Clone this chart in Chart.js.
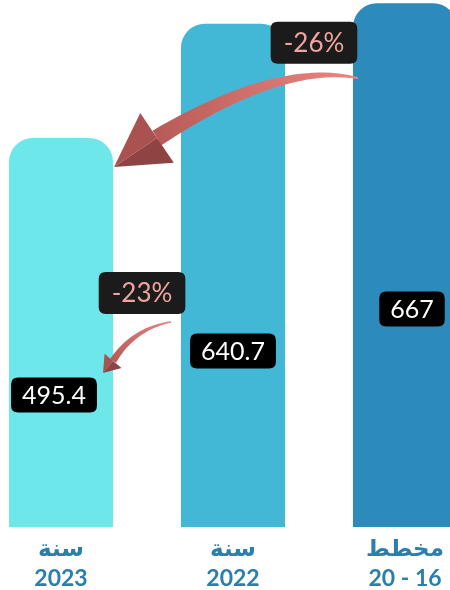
<!DOCTYPE html>
<html>
<head>
<meta charset="utf-8">
<script src="https://cdn.jsdelivr.net/npm/chart.js@4.4.0/dist/chart.umd.min.js"></script>
<style>
  html, body { margin: 0; padding: 0; background: #fff; overflow: hidden; }
  #wrap { position: relative; width: 450px; height: 590px; overflow: hidden; }
  #chart { position: absolute; left: -25px; top: 0; }
</style>
</head>
<body>
<div id="wrap"><canvas id="chart" width="516" height="590"></canvas></div>
<script>
const categories = [['سنة', '2023'], ['سنة', '2022'], ['مخطط', '20 - 16']];
const values = [495.4, 640.7, 667];
const valueLabels = ['495.4', '640.7', '667'];
const barColors = ['#6de7e9', '#42b8d6', '#2c8bbb'];

// percentage change of 2023 against the plan and against 2022
function pctChange(from, to) {
    return Math.round((to - from) / from * 100) + '%';
}
const dropVsPlan = pctChange(values[2], values[0]);
const dropVs2022 = pctChange(values[1], values[0]);

function roundBox(ctx, x, y, w, h, r) {
    ctx.beginPath();
    ctx.moveTo(x + r, y);
    ctx.lineTo(x + w - r, y);
    ctx.quadraticCurveTo(x + w, y, x + w, y + r);
    ctx.lineTo(x + w, y + h - r);
    ctx.quadraticCurveTo(x + w, y + h, x + w - r, y + h);
    ctx.lineTo(x + r, y + h);
    ctx.quadraticCurveTo(x, y + h, x, y + h - r);
    ctx.lineTo(x, y + r);
    ctx.quadraticCurveTo(x, y, x + r, y);
    ctx.closePath();
}

function labelBox(ctx, text, cx, cy, opts) {
    ctx.font = opts.font;
    const w = ctx.measureText(text).width + opts.padX * 2;
    const h = opts.h;
    roundBox(ctx, cx - w / 2, cy - h / 2, w, h, 7);
    ctx.fillStyle = opts.bg;
    ctx.fill();
    ctx.fillStyle = opts.color;
    ctx.textAlign = 'center';
    ctx.textBaseline = 'middle';
    ctx.fillText(text, cx, cy + 1);
}

// curved tapering arrow: start s, control c, head base b, tip t
function curvedArrow(ctx, s, c, b, t, w0, w1, headHalf) {
    const n = 30;
    const left = [], right = [];
    for (let i = 0; i <= n; i++) {
        const k = i / n;
        const x = (1 - k) * (1 - k) * s[0] + 2 * (1 - k) * k * c[0] + k * k * b[0];
        const y = (1 - k) * (1 - k) * s[1] + 2 * (1 - k) * k * c[1] + k * k * b[1];
        const dx = 2 * (1 - k) * (c[0] - s[0]) + 2 * k * (b[0] - c[0]);
        const dy = 2 * (1 - k) * (c[1] - s[1]) + 2 * k * (b[1] - c[1]);
        const len = Math.hypot(dx, dy);
        const hw = (w0 + (w1 - w0) * k) / 2;
        left.push([x - dy / len * hw, y + dx / len * hw]);
        right.push([x + dy / len * hw, y - dx / len * hw]);
    }
    const grad = ctx.createLinearGradient(s[0], s[1], b[0], b[1]);
    grad.addColorStop(0, '#ea8582');
    grad.addColorStop(1, '#b85b58');
    ctx.beginPath();
    ctx.moveTo(left[0][0], left[0][1]);
    left.forEach(p => ctx.lineTo(p[0], p[1]));
    for (let i = right.length - 1; i >= 0; i--) ctx.lineTo(right[i][0], right[i][1]);
    ctx.closePath();
    ctx.fillStyle = grad;
    ctx.fill();

    // head
    const hx = t[0] - b[0], hy = t[1] - b[1];
    const hl = Math.hypot(hx, hy);
    const px = -hy / hl * headHalf, py = hx / hl * headHalf;
    const a1 = [b[0] + px, b[1] + py];
    const a2 = [b[0] - px, b[1] - py];
    ctx.beginPath();
    ctx.moveTo(t[0], t[1]);
    ctx.lineTo(a1[0], a1[1]);
    ctx.lineTo(b[0], b[1]);
    ctx.closePath();
    ctx.fillStyle = '#a95250';
    ctx.fill();
    ctx.beginPath();
    ctx.moveTo(t[0], t[1]);
    ctx.lineTo(a2[0], a2[1]);
    ctx.lineTo(b[0], b[1]);
    ctx.closePath();
    ctx.fillStyle = '#8e4442';
    ctx.fill();
}

const annotations = {
    id: 'annotations',
    afterDatasetsDraw(chart) {
        const ctx = chart.ctx;
        const bars = chart.getDatasetMeta(0).data;
        const b1 = bars[0], b2 = bars[1], b3 = bars[2];
        const r1 = b1.x + b1.width / 2;
        const l3 = b3.x - b3.width / 2;
        ctx.save();

        // big arrow: plan -> 2023
        curvedArrow(ctx,
            [l3 + 5, b3.y + 75], [l3 - 73, b3.y + 58], [r1 + 44, b1.y],
            [r1 + 1, b1.y + 29], 2, 17, 30);
        // small arrow: 2022 -> 2023
        curvedArrow(ctx,
            [r1 + 58, b1.y + 184], [r1 + 20, b1.y + 191], [r1, b1.y + 223],
            [r1 - 10, b1.y + 235], 1.5, 7, 11);

        const pctStyle = { font: '26px Lato, "Open Sans", sans-serif', padX: 13, h: 42, bg: '#1b1b1b', color: '#f0a49d' };
        labelBox(ctx, dropVsPlan, l3 - 39, b2.y + 19, pctStyle);
        labelBox(ctx, dropVs2022, r1 + 29, b1.y + 155, pctStyle);

        const valStyle = { font: '25px Lato, "Open Sans", sans-serif', padX: 11, h: 35, bg: '#000', color: '#fff' };
        const shiftX = [-7, 0, 7];
        const shiftY = [132, 176, 218];
        bars.forEach((bar, i) => {
            labelBox(ctx, valueLabels[i], bar.x + shiftX[i], bar.base - shiftY[i], valStyle);
        });
        ctx.restore();
    }
};

new Chart(document.getElementById('chart'), {
    type: 'bar',
    data: {
        labels: categories,
        datasets: [{
            data: values,
            backgroundColor: barColors,
            borderRadius: 24,
            borderSkipped: 'bottom',
            barPercentage: 0.605,
            categoryPercentage: 1
        }]
    },
    options: {
        responsive: false,
        animation: false,
        layout: { padding: 0 },
        plugins: {
            legend: { display: false },
            tooltip: { enabled: false }
        },
        scales: {
            y: {
                display: false,
                min: 0,
                max: 671
            },
            x: {
                grid: { display: false, drawTicks: false },
                border: { display: false },
                ticks: {
                    color: '#2b7fad',
                    padding: 7,
                    font: { family: 'Lato, "DejaVu Sans", sans-serif', size: 23, weight: 'bold', lineHeight: 1.3 }
                },
                afterFit(scale) { scale.height = 63; }
            }
        }
    },
    plugins: [annotations]
});
</script>
</body>
</html>
